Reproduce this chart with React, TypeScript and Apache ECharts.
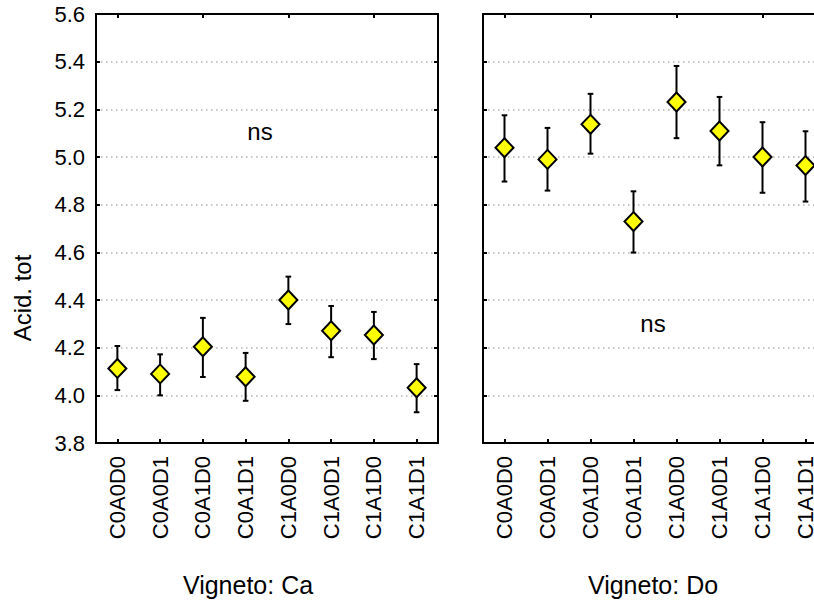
import React, { useEffect, useRef } from "react";
import * as echarts from "echarts";

const categories = ["C0A0D0", "C0A0D1", "C0A1D0", "C0A1D1", "C1A0D0", "C1A0D1", "C1A1D0", "C1A1D1"];
const caMean = [4.113, 4.09, 4.204, 4.078, 4.4, 4.271, 4.253, 4.032];
const caLow = [4.022, 4.0, 4.077, 3.977, 4.299, 4.16, 4.152, 3.929];
const caHigh = [4.207, 4.172, 4.325, 4.178, 4.498, 4.375, 4.35, 4.131];
const doMean = [5.039, 4.99, 5.137, 4.729, 5.231, 5.109, 5.0, 4.964];
const doLow = [4.897, 4.859, 5.014, 4.599, 5.079, 4.965, 4.85, 4.813];
const doHigh = [5.175, 5.122, 5.265, 4.856, 5.382, 5.252, 5.146, 5.108];
const panelTitles = ["Vigneto: Ca", "Vigneto: Do"];
const yTitle = "Acid. tot";
const noteText = "ns";
const yMin = 3.8;
const yMax = 5.6;
const yStep = 0.2;

const FONT = "'Liberation Sans', Arial, sans-serif";

export default function App() {
  const ref = useRef<HTMLDivElement>(null);
  useEffect(() => {
    if (!ref.current) return;
    const chart = echarts.init(ref.current, undefined, { renderer: "svg" });
    const axisLine = { show: true, lineStyle: { color: "#000", width: 2 } };
    const grids = [
      { left: 96, top: 14, width: 342, height: 429 },
      { left: 483, top: 14, width: 344, height: 429 },
    ];
    const xAxes: any[] = [];
    const yAxes: any[] = [];
    grids.forEach((_, gi) => {
      xAxes.push({
        type: "category",
        gridIndex: gi,
        data: categories,
        position: "bottom",
        axisLine,
        axisTick: { show: true, inside: true, length: 4, alignWithLabel: true, lineStyle: { color: "#000", width: 2 } },
        axisLabel: { show: true, rotate: 90, margin: 13, fontSize: 22, color: "#000", fontFamily: FONT, interval: 0 },
        splitLine: { show: false },
      });
      xAxes.push({
        type: "category",
        gridIndex: gi,
        data: categories,
        position: "top",
        axisLine,
        axisTick: { show: true, inside: true, length: 4, alignWithLabel: true, lineStyle: { color: "#000", width: 2 } },
        axisLabel: { show: false },
        splitLine: { show: false },
      });
      yAxes.push({
        type: "value",
        gridIndex: gi,
        min: yMin,
        max: yMax,
        interval: yStep,
        position: "left",
        axisLine,
        axisTick: { show: true, inside: true, length: 4, lineStyle: { color: "#000", width: 2 } },
        axisLabel: {
          show: gi === 0,
          margin: 11,
          fontSize: 22,
          color: "#000",
          fontFamily: FONT,
          formatter: (v: number) => v.toFixed(1),
        },
        splitLine: { show: true, lineStyle: { color: "#b4b4b4", width: 1.5, type: [1.5, 3.5] } },
      });
      yAxes.push({
        type: "value",
        gridIndex: gi,
        min: yMin,
        max: yMax,
        interval: yStep,
        position: "right",
        axisLine,
        axisTick: { show: true, inside: true, length: 4, lineStyle: { color: "#000", width: 2 } },
        axisLabel: { show: false },
        splitLine: { show: false },
      });
    });

    const renderErr = (params: any, api: any) => {
      const x = api.value(0);
      const lo = api.coord([x, api.value(1)]);
      const hi = api.coord([x, api.value(2)]);
      const w = 2.8;
      const st = { stroke: "#000", lineWidth: 2 };
      return {
        type: "group",
        children: [
          { type: "line", shape: { x1: lo[0], y1: lo[1], x2: hi[0], y2: hi[1] }, style: st },
          { type: "line", shape: { x1: hi[0] - w, y1: hi[1], x2: hi[0] + w, y2: hi[1] }, style: st },
          { type: "line", shape: { x1: lo[0] - w, y1: lo[1], x2: lo[0] + w, y2: lo[1] }, style: st },
        ],
      };
    };

    const panels = [
      { mean: caMean, low: caLow, high: caHigh },
      { mean: doMean, low: doLow, high: doHigh },
    ];
    const series: any[] = [];
    panels.forEach((p, gi) => {
      series.push({
        type: "custom",
        xAxisIndex: gi * 2,
        yAxisIndex: gi * 2,
        renderItem: renderErr,
        data: categories.map((_, i) => [i, p.low[i], p.high[i]]),
        z: 2,
        silent: true,
      });
      series.push({
        type: "scatter",
        xAxisIndex: gi * 2,
        yAxisIndex: gi * 2,
        symbol: "diamond",
        symbolSize: [18, 19],
        itemStyle: { color: "#ffff00", borderColor: "#000", borderWidth: 2, opacity: 1 },
        data: categories.map((_, i) => [i, p.mean[i]]),
        z: 3,
        silent: true,
      });
    });

    const textStyle = (t: string, size: number) => ({
      text: t,
      fill: "#000",
      font: `${size}px ${FONT}`,
      align: "center",
      verticalAlign: "middle",
    });

    chart.setOption({
      animation: false,
      backgroundColor: "#fff",
      grid: grids,
      xAxis: xAxes,
      yAxis: yAxes,
      series,
      graphic: [
        { type: "text", x: 260, y: 131, style: textStyle(noteText, 24) },
        { type: "text", x: 653, y: 323, style: textStyle(noteText, 24) },
        { type: "text", x: 248, y: 585, style: textStyle(panelTitles[0], 25) },
        { type: "text", x: 653, y: 585, style: textStyle(panelTitles[1], 25) },
        { type: "text", x: 22, y: 298, rotation: Math.PI / 2, style: textStyle(yTitle, 24) },
      ],
    });
    return () => chart.dispose();
  }, []);
  return (
    <div style={{ position: "fixed", left: 0, top: 0, width: 814, height: 602, overflow: "hidden", background: "#fff" }}>
      <div ref={ref} style={{ width: 850, height: 602 }} />
    </div>
  );
}
